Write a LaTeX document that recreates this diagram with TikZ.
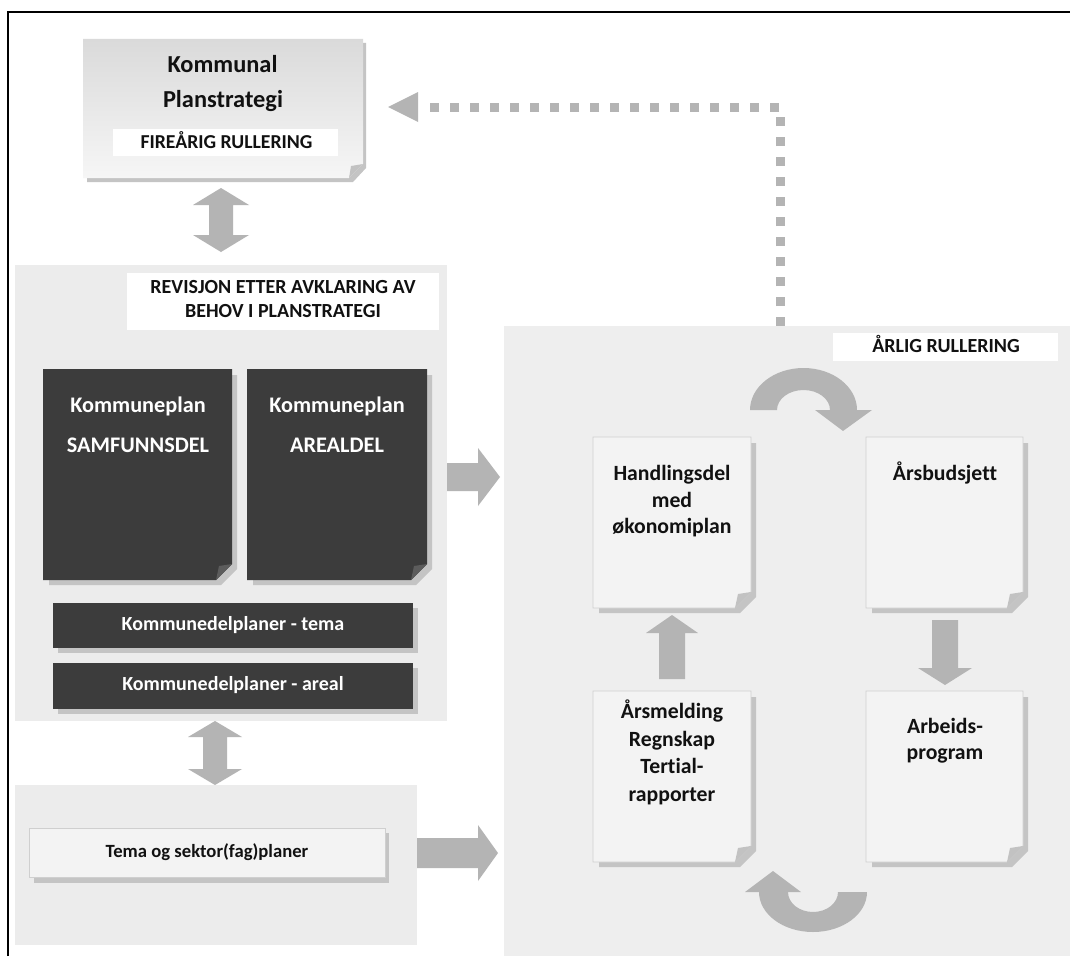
\documentclass[tikz,border=0pt]{standalone}
\usepackage{fontspec}
\setmainfont{Carlito}[Ligatures=NoCommon]
\usetikzlibrary{fit}
\definecolor{panelL}{HTML}{ECECEC}
\definecolor{panelR}{HTML}{EEEEEE}
\definecolor{arrowgray}{HTML}{B4B4B4}
\definecolor{darkbox}{HTML}{3C3C3C}
\definecolor{pagefill}{HTML}{F3F3F3}
\definecolor{pageborder}{HTML}{CFCFCF}
\definecolor{shadowgray}{HTML}{C4C4C4}
\definecolor{foldgray}{HTML}{C2C2C2}
\definecolor{darkfold}{HTML}{5C5C5C}
\definecolor{textdark}{HTML}{111111}
\definecolor{topgrad}{HTML}{DADADA}
\definecolor{botgrad}{HTML}{F6F6F6}
\newcommand{\lightpage}[5]{%
  \fill[shadowgray] (#2+6,#3+6) -- (#4+5,#3+6) -- (#4+5,#5+5-16) -- (#4+5-16,#5+5) -- (#2+6,#5+5) -- cycle;
  \filldraw[fill=pagefill, draw=pageborder, line width=0.6pt] (#2,#3) -- (#4,#3) -- (#4,#5-16) -- (#4-16,#5) -- (#2,#5) -- cycle;
  \fill[foldgray] (#4,#5-16) -- (#4-16,#5) -- (#4-13,#5-14) -- cycle;
  \node[fit={(#2,#3)(#4,#5)}, inner sep=0] (#1) {};}
\newcommand{\darkpage}[5]{%
  \fill[shadowgray] (#2+6,#3+6) -- (#4+5,#3+6) -- (#4+5,#5+5-16) -- (#4+5-16,#5+5) -- (#2+6,#5+5) -- cycle;
  \fill[darkbox] (#2,#3) -- (#4,#3) -- (#4,#5-16) -- (#4-16,#5) -- (#2,#5) -- cycle;
  \fill[darkfold] (#4,#5-16) -- (#4-16,#5) -- (#4-13,#5-14) -- cycle;
  \node[fit={(#2,#3)(#4,#5)}, inner sep=0] (#1) {};}
\tikzset{
  panel/.style={inner sep=0, outer sep=0},
  label box/.style={fill=white, inner sep=0, outer sep=0},
  dark bar/.style={fill=darkbox, inner sep=0, outer sep=0},
  txt/.style={anchor=base, inner sep=0, font=\bfseries, text=textdark},
  wtxt/.style={anchor=base, inner sep=0, font=\bfseries, text=white},
  blockarrow/.style={fill=arrowgray, draw=none},
}
\begin{document}
\begin{tikzpicture}[x=0.75pt, y=-0.75pt]
\useasboundingbox (0,0) rectangle (1070,956);
\fill[white] (0,0) rectangle (1070,956);
% frame
\draw[line width=1.6pt, black] (8,956) -- (8,12) -- (1070,12);

% dotted feedback line
\draw[arrowgray, line width=6.75pt, dash pattern=on 6.75pt off 8.25pt] (780,326) -- (780,107) -- (428,107);
\fill[arrowgray] (388,107) -- (418,92) -- (418,122) -- cycle;

% top box
\fill[shadowgray] (87,43) -- (366,43) -- (366,168) -- (353,182) -- (87,182) -- cycle;
\shade[top color=topgrad, bottom color=botgrad] (83,39) -- (363,39) -- (363,164) -- (349,178) -- (83,178) -- cycle;
\fill[foldgray] (363,164) -- (349,178) -- (351,166) -- cycle;
\node[fit={(83,39)(363,178)}, inner sep=0] (plan) {};
\node[label box, fit={(113,129)(338,156)}] (fire) {};
\node[txt, font=\bfseries\fontsize{18.3}{20}\selectfont] (plan1) at (222.5,73) {Kommunal};
\node[txt, font=\bfseries\fontsize{18.3}{20}\selectfont] (plan2) at (223,108) {Planstrategi};
\node[txt, font=\bfseries\fontsize{14.8}{16}\selectfont] (firetxt) at (226.5,148) {FIREÅRIG RULLERING};

% double arrow top
\fill[blockarrow] (221,188) -- (249,205) -- (233,205) -- (233,235) -- (249,235) -- (221,252) -- (193,235) -- (209,235) -- (209,205) -- (193,205) -- cycle;

% left panel 1
\node[panel, fill=panelL, fit={(15,265)(447,721)}] (p1) {};
\node[label box, fit={(127,273)(439,330)}] (rev) {};
\node[txt, font=\bfseries\fontsize{15}{16}\selectfont] (rev1) at (283,293) {REVISJON ETTER AVKLARING AV};
\node[txt, font=\bfseries\fontsize{15}{16}\selectfont] (rev2) at (283,317) {BEHOV I PLANSTRATEGI};
\darkpage{samf}{43}{369}{232}{580}
\darkpage{areal}{247}{369}{427}{580}
\node[wtxt, font=\bfseries\fontsize{16.7}{18}\selectfont] (samf1) at (138,412) {Kommuneplan};
\node[wtxt, font=\bfseries\fontsize{16.7}{18}\selectfont] (samf2) at (138,452) {SAMFUNNSDEL};
\node[wtxt, font=\bfseries\fontsize{16.7}{18}\selectfont] (areal1) at (337,412) {Kommuneplan};
\node[wtxt, font=\bfseries\fontsize{16.7}{18}\selectfont] (areal2) at (337,452) {AREALDEL};
\fill[shadowgray] (58,608) rectangle (418,653);
\node[dark bar, fit={(53,603)(413,648)}] (tema) {};
\node[wtxt, font=\bfseries\fontsize{15}{16}\selectfont] (tematxt) at (233,630) {Kommunedelplaner - tema};
\fill[shadowgray] (58,668) rectangle (418,714);
\node[dark bar, fit={(53,663)(413,709)}] (arealbar) {};
\node[wtxt, font=\bfseries\fontsize{15}{16}\selectfont] (arealtxt) at (233,690) {Kommunedelplaner - areal};

% double arrow lower
\fill[blockarrow] (215,721) -- (242,737) -- (227,737) -- (227,769) -- (242,769) -- (215,785) -- (188,769) -- (203,769) -- (203,737) -- (188,737) -- cycle;

% left panel 2
\node[panel, fill=panelL, fit={(15,785)(417,945)}] (p2) {};
\fill[shadowgray] (34,833) rectangle (389,883);
\node[fill=pagefill, draw=pageborder, line width=0.6pt, inner sep=0, fit={(29,828)(385,877)}] (sektor) {};
\node[txt, font=\bfseries\fontsize{14}{15}\selectfont] (sektortxt) at (207,857) {Tema og sektor(fag)planer};

% right panel
\node[panel, fill=panelR, fit={(504,326)(1070,956)}] (pr) {};
\node[label box, fit={(833,333)(1058,361)}] (arlig) {};
\node[txt, font=\bfseries\fontsize{15}{16}\selectfont] (arligtxt) at (946,352) {ÅRLIG RULLERING};

% arrows into right panel
\fill[blockarrow] (447,463) -- (478,463) -- (478,448) -- (500,477) -- (478,506) -- (478,491) -- (447,491) -- cycle;
\fill[blockarrow] (417,838) -- (478,838) -- (478,825) -- (498,853) -- (478,881) -- (478,868) -- (417,868) -- cycle;

% pages in right panel
\lightpage{hand}{593}{437}{751}{608}
\lightpage{budsj}{866}{437}{1023}{608}
\lightpage{melding}{593}{691}{751}{862}
\lightpage{arbeid}{866}{691}{1023}{862}
\node[txt, font=\bfseries\fontsize{16.3}{18}\selectfont] (hand1) at (672,480) {Handlingsdel};
\node[txt, font=\bfseries\fontsize{16.3}{18}\selectfont] (hand2) at (672,507) {med};
\node[txt, font=\bfseries\fontsize{16.3}{18}\selectfont] (hand3) at (672,533) {økonomiplan};
\node[txt, font=\bfseries\fontsize{16.3}{18}\selectfont] (budsjtxt) at (945,480) {Årsbudsjett};
\node[txt, font=\bfseries\fontsize{16.3}{18}\selectfont] (meld1) at (672,718) {Årsmelding};
\node[txt, font=\bfseries\fontsize{16.3}{18}\selectfont] (meld2) at (672,746) {Regnskap};
\node[txt, font=\bfseries\fontsize{16.3}{18}\selectfont] (meld3) at (672,773) {Tertial-};
\node[txt, font=\bfseries\fontsize{16.3}{18}\selectfont] (meld4) at (672,801) {rapporter};
\node[txt, font=\bfseries\fontsize{16.3}{18}\selectfont] (arb1) at (945,733) {Arbeids-};
\node[txt, font=\bfseries\fontsize{16.3}{18}\selectfont] (arb2) at (945,759) {program};

% cycle arrows
\fill[blockarrow] (659,679) -- (685,679) -- (685,633) -- (698,633) -- (672,615) -- (646,633) -- (659,633) -- cycle;
\fill[blockarrow] (932,620) -- (958,620) -- (958,668) -- (972,668) -- (945,685) -- (918,668) -- (932,668) -- cycle;
\fill[arrowgray] (750,410) arc[start angle=180, end angle=360, x radius=53.5, y radius=42] -- (830,410) arc[start angle=360, end angle=180, x radius=26.5, y radius=20] -- cycle;
\fill[arrowgray] (815,410) -- (872,410) -- (843,431) -- cycle;
\fill[arrowgray] (867,892) arc[start angle=0, end angle=180, x radius=54, y radius=40] -- (788,892) arc[start angle=180, end angle=0, x radius=25, y radius=20] -- cycle;
\fill[arrowgray] (745,892) -- (801,892) -- (773,871) -- cycle;
\end{tikzpicture}
\end{document}
